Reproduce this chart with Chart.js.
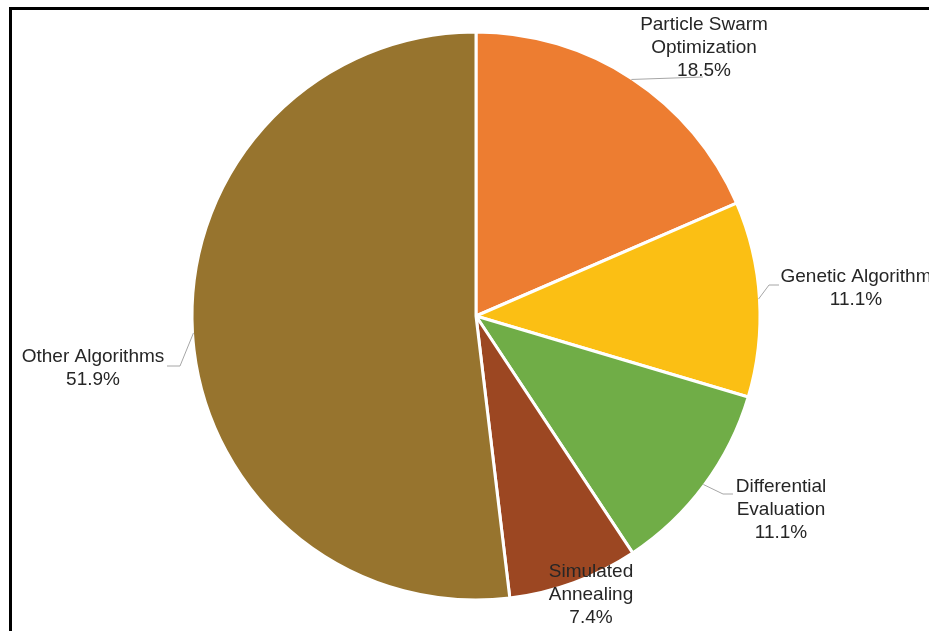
<!DOCTYPE html>
<html><head><meta charset="utf-8">
<script src="https://cdn.jsdelivr.net/npm/chart.js@4"></script>
<style>html,body{margin:0;padding:0;background:#fff;}canvas{display:block;}</style>
</head><body>
<canvas id="c" width="929" height="631"></canvas>
<script>
const categories = ["Particle Swarm Optimization","Genetic Algorithm","Differential Evaluation","Simulated Annealing","Other Algorithms"];
const shares = [18.5, 11.1, 11.1, 7.4, 51.9];
const labelLines = [["Particle Swarm","Optimization","18.5%"],["Genetic Algorithm","11.1%"],["Differential","Evaluation","11.1%"],["Simulated","Annealing","7.4%"],["Other Algorithms","51.9%"]];
const colors = ["#ED7D31","#FBBF14","#70AD47","#9C4722","#97742E"];

// label layout (centre x, first line y, leader path points after the arc point)
const layout = [
  {x:704, y:25, path:[[703,77]]},
  {x:856, y:277, path:[[769,285],[779,285]]},
  {x:781, y:487, path:[[723,494],[733,494]]},
  {x:591, y:572, path:[]},
  {x:93,  y:357, path:[[180,366],[167,366]]}
];

const labelPlugin = {
  id:'labels',
  beforeDraw(chart){
    const ctx = chart.ctx;
    ctx.save();
    ctx.fillStyle='#000';
    ctx.fillRect(9,7,929,3);
    ctx.fillRect(9,7,3,631);
    ctx.restore();
  },
  afterDraw(chart){
    const ctx = chart.ctx;
    const meta = chart.getDatasetMeta(0);
    ctx.save();
    meta.data.forEach((arc,i)=>{
      const p = arc.getProps(['x','y','startAngle','endAngle','outerRadius'],true);
      const mid = (p.startAngle+p.endAngle)/2;
      const L = layout[i];
      if(L.path.length){
        ctx.beginPath();
        ctx.strokeStyle='#A6A6A6';
        ctx.lineWidth=1;
        ctx.moveTo(p.x+Math.cos(mid)*(p.outerRadius-1), p.y+Math.sin(mid)*(p.outerRadius-1));
        L.path.forEach(pt=>ctx.lineTo(pt[0],pt[1]));
        ctx.stroke();
      }
      ctx.fillStyle='#262626';
      ctx.font='19px "Liberation Sans", Arial, sans-serif';
      ctx.textAlign='center';
      ctx.textBaseline='middle';
      labelLines[i].forEach((t,k)=>ctx.fillText(t, L.x, L.y+k*23));
    });
    ctx.restore();
  }
};

new Chart(document.getElementById('c'),{
  type:'pie',
  data:{labels:categories, datasets:[{data:shares, backgroundColor:colors, borderColor:'#fff', borderWidth:3, hoverBorderWidth:3, hoverBackgroundColor:colors}]},
  options:{
    responsive:false, animation:false, events:[],
    layout:{padding:{top:30.5, bottom:29.5, left:100, right:77}},
    plugins:{legend:{display:false}, tooltip:{enabled:false}}
  },
  plugins:[labelPlugin]
});
</script>
</body></html>
